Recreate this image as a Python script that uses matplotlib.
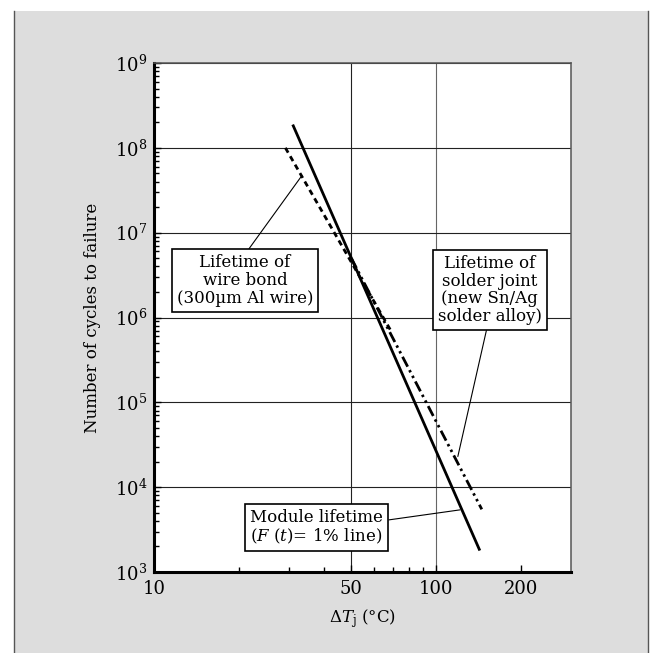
import matplotlib

matplotlib.use("Agg")
import matplotlib.pyplot as plt
from matplotlib.lines import Line2D
from matplotlib.patches import Rectangle
from matplotlib.ticker import (FixedLocator, FuncFormatter, LogFormatterMathtext, LogLocator,
                               NullFormatter)

plt.rcParams["font.family"] = ["DejaVu Serif"]
plt.rcParams["mathtext.fontset"] = "dejavuserif"

# Module lifetime, F(t) = 1% line (solid)
module_dt = [31.0, 142.6]
module_n = [1.88e8, 1.79e3]
# Wire bond lifetime, 300um Al wire (dashed)
wire_dt = [29.2, 69.0]
wire_n = [1.0e8, 7.0e5]
# Solder joint lifetime, new Sn/Ag alloy (dash-dot-dot)
solder_dt = [50.0, 144.9]
solder_n = [5.0e6, 5.48e3]

x_major = [10, 50, 100, 200]
x_minor = [20, 30, 40, 60, 70, 80, 90]
x_grid = [50, 100]
y_major = [1e3, 1e4, 1e5, 1e6, 1e7, 1e8, 1e9]

# label text, box centre (dT, N), point on curve (dT, N), leader anchor on box
notes = [
    ("Lifetime of\nwire bond\n(300µm Al wire)", (21.0, 2.73e6), (33.4, 4.7e7), (0.5, 1.0), "center"),
    ("Lifetime of\nsolder joint\n(new Sn/Ag\nsolder alloy)", (154.6, 2.11e6), (119.2, 2.3e4), (0.48, 0.0), "center"),
    ("Module lifetime\n($\\mathit{F}$ ($t$)= 1% line)", (37.7, 3.36e3), (121.3, 5.4e3), (1.0, 0.68), "left"),
]

fig = plt.figure(figsize=(6.53, 6.53), dpi=100, facecolor="white")
fig.patches.append(Rectangle((14 / 653, 0), 634 / 653, 642 / 653, transform=fig.transFigure,
                             facecolor="#dddddd", edgecolor="none", zorder=-10))
for xf in (14 / 653, 648 / 653):
    fig.lines.append(Line2D([xf, xf], [0, 642 / 653], transform=fig.transFigure,
                            color="#555555", lw=1.0, zorder=-5))

ax = fig.add_axes([154 / 653, 81 / 653, 417 / 653, 509 / 653])
ax.set_xscale("log")
ax.set_yscale("log")
ax.set_xlim(10, 300)
ax.set_ylim(1e3, 1e9)

ax.plot(module_dt, module_n, color="black", lw=2.0, solid_capstyle="butt", zorder=4)
ax.plot(wire_dt, wire_n, color="black", lw=2.0, linestyle=(0, (2.0, 1.5)), zorder=4)
ax.plot(solder_dt, solder_n, color="black", lw=2.0,
        linestyle=(0, (4.0, 1.4, 0.9, 1.4, 0.9, 1.4)), zorder=4)

ax.xaxis.set_major_locator(FixedLocator(x_major))
ax.xaxis.set_minor_locator(FixedLocator(x_minor))
ax.xaxis.set_major_formatter(FuncFormatter(lambda v, p: f"{v:g}"))
ax.xaxis.set_minor_formatter(NullFormatter())
ax.yaxis.set_major_locator(FixedLocator(y_major))
ax.yaxis.set_minor_locator(LogLocator(base=10, subs=range(2, 10), numticks=20))
ax.yaxis.set_major_formatter(LogFormatterMathtext())
ax.yaxis.set_minor_formatter(NullFormatter())

ax.tick_params(which="both", direction="in", top=False, right=False, labelsize=13,
               color="black")
ax.tick_params(which="major", length=5, width=1)
ax.tick_params(which="minor", length=3.5, width=1)
ax.tick_params(axis="x", pad=6)
ax.tick_params(axis="y", pad=5)

ax.yaxis.grid(True, which="major", color="#222222", lw=0.8)
for xv, col in zip(x_grid, ["#222222", "#666666"]):
    ax.axvline(xv, color=col, lw=0.8, zorder=1)

for side in ("left", "bottom"):
    ax.spines[side].set_linewidth(2.2)
for side in ("top", "right"):
    ax.spines[side].set_linewidth(1.1)
    ax.spines[side].set_color("#555555")

ax.set_ylabel("Number of cycles to failure", fontsize=12, labelpad=10)
ax.set_xlabel(r"$\Delta T_{\mathrm{j}}$ (°C)", fontsize=12, labelpad=6)

for text, pos, pt, rel, align in notes:
    ax.annotate(text, xy=pt, xytext=pos, ha="center", va="center", multialignment=align,
                fontsize=12, linespacing=1.05, zorder=5,
                bbox=dict(boxstyle="square,pad=0.3", fc="white", ec="black", lw=1.2),
                arrowprops=dict(arrowstyle="-", color="black", lw=0.8, shrinkA=0, shrinkB=0,
                                relpos=rel))

fig.savefig("out.png", dpi=100, facecolor=fig.get_facecolor())
